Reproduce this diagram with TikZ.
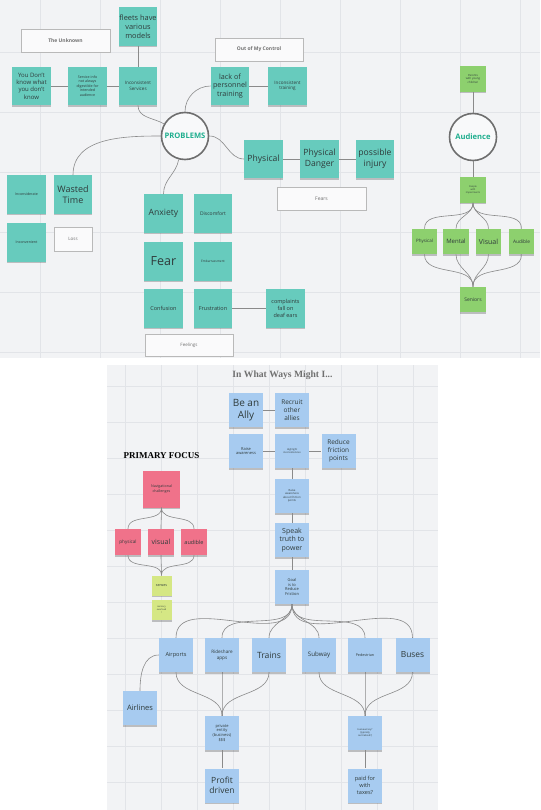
\documentclass[tikz,border=0pt]{standalone}
\usepackage{fontspec}
\setmainfont{Open Sans}
\newfontfamily\headserif{Liberation Serif}
\usetikzlibrary{shadows}
\definecolor{bgc}{HTML}{F2F3F5}
\definecolor{gridc}{HTML}{E2E4E8}
\definecolor{tealn}{HTML}{67CBBD}
\definecolor{greenn}{HTML}{8DD06E}
\definecolor{pinkn}{HTML}{F0728A}
\definecolor{limen}{HTML}{D5E784}
\definecolor{bluen}{HTML}{A7CBF0}
\definecolor{txt}{HTML}{2F3B3B}
\definecolor{lnc}{HTML}{8A8A8A}
\definecolor{ringc}{HTML}{6E6E6E}
\definecolor{headc}{HTML}{1EAE8E}
\definecolor{lblc}{HTML}{707070}
\tikzset{
  fs/.code={\pgfmathsetmacro\fsbl{1.22*#1}\edef\fscmd{\noexpand\fontsize{#1}{\fsbl}\noexpand\selectfont}\pgfkeysalso{/tikz/font/.expand once=\fscmd}},
  note/.style={fill=#1, text=txt, align=center, inner sep=0pt,
    drop shadow={shadow xshift=0pt, shadow yshift=-1.6pt, opacity=0.22, fill=black}},
  tnote/.style={note=tealn, minimum width=38.5pt, minimum height=38.5pt},
  gnote/.style={note=greenn, minimum width=25.5pt, minimum height=25.5pt},
  bnote/.style={note=bluen, minimum width=34pt, minimum height=34pt},
  pnote/.style={note=pinkn, minimum width=26pt, minimum height=26pt},
  lnote/.style={note=limen, minimum width=20pt, minimum height=20pt},
  lbox/.style={draw=gray!55, line width=0.7pt, fill=white!60!bgc, text=lblc, align=center, inner sep=0pt},
  ring/.style={circle, draw=ringc, line width=1.6pt, fill=white!50!bgc, minimum size=47pt, inner sep=0pt, text=headc},
  conn/.style={draw=lnc, line width=0.6pt},
}
\begin{document}
\begin{tikzpicture}[x=1pt,y=-1pt]
\useasboundingbox (0,0) rectangle (540,810);
\fill[white] (0,0) rectangle (540,810);
% panels
\fill[bgc] (0,0) rectangle (540,358);
\foreach \gx in {40,100,...,520} \draw[gridc, line width=0.4pt] (\gx,0) -- (\gx,358);
\foreach \gy in {52,112,...,352} \draw[gridc, line width=0.4pt] (0,\gy) -- (540,\gy);
\fill[bgc] (107,365) rectangle (438,810);
\foreach \gx in {125,161,...,431} \draw[gridc, line width=0.4pt] (\gx,365) -- (\gx,810);
\foreach \gy in {386,422,...,806} \draw[gridc, line width=0.4pt] (107,\gy) -- (438,\gy);

% ===== PROBLEMS map =====
\node[lbox, minimum width=89pt, minimum height=23pt, fs=5] (unk) at (65.5,40.5) {\bfseries The Unknown};
\node[tnote, fs=7.4] (fleets) at (138,26.5) {fleets have\\various\\models};
\node[tnote, fs=6] (you) at (31.5,86) {You Don't\\know what\\you don't\\know};
\node[tnote, fs=3.6] (svc) at (87.5,86) {Service info\\not always\\digestible for\\intended\\audience};
\node[tnote, fs=4.6] (insv) at (138,86) {Inconsistent\\Services};
\node[lbox, minimum width=88pt, minimum height=23pt, fs=5] (ctrl) at (259,49.5) {\bfseries Out of My Control};
\node[tnote, fs=7.2] (lack) at (230,86) {lack of\\personnel\\training};
\node[tnote, fs=4.6] (intr) at (287.5,86) {Inconsistent\\training};
\node[ring, fs=7.6] (prob) at (185,136) {\bfseries PROBLEMS};
\node[tnote, fs=8.6] (phys) at (263.5,159) {Physical};
\node[tnote, fs=8.6] (pdan) at (319.5,159) {Physical\\Danger};
\node[tnote, fs=8.6] (inj) at (375,159) {possible\\injury};
\node[lbox, minimum width=89pt, minimum height=23pt, fs=5] (fears) at (321.5,198.5) {Fears};
\node[tnote, fs=3.6] (incd) at (26.5,194.5) {Inconsiderate};
\node[tnote, fs=9] (wast) at (73,194.5) {Wasted\\Time};
\node[tnote, fs=3.6] (incv) at (26.5,242.5) {Inconvenient};
\node[lbox, minimum width=38pt, minimum height=24pt, fs=4.5] (loss) at (73,239) {Loss};
\node[tnote, fs=8.6] (anx) at (163.5,213.5) {Anxiety};
\node[tnote, fs=5] (disc) at (213,213.5) {Discomfort};
\node[tnote, fs=12.5] (fear) at (163.5,261.5) {Fear};
\node[tnote, fs=3.2] (emb) at (213,261.5) {Embarrassment};
\node[tnote, fs=5.5] (conf) at (163.5,308.5) {Confusion};
\node[tnote, fs=5.5] (frus) at (213,308.5) {Frustration};
\node[tnote, fs=5.5] (comp) at (285.5,308.5) {complaints\\fall on\\deaf ears};
\node[lbox, minimum width=88pt, minimum height=22pt, fs=4.5] (feel) at (189,345) {Feelings};

\draw[conn] (fleets) -- (insv);
\draw[conn] (you) -- (svc);
\draw[conn] (svc) -- (insv);
\draw[conn] (insv.south) to[out=-90,in=150] (prob.150);
\draw[conn] (lack.west) to[out=180,in=90] (prob.north);
\draw[conn] (lack) -- (intr);
\draw[conn] (prob.east) to[out=0,in=180] (phys.west);
\draw[conn] (phys) -- (pdan);
\draw[conn] (pdan) -- (inj);
\draw[conn] (wast.north) to[out=90,in=180] (prob.west);
\draw[conn] (prob.255) to[out=-100,in=90] (anx.north);
\draw[conn] (frus) -- (comp);

% ===== Audience =====
\node[ring, fs=7.6] (aud) at (473,137) {\bfseries Audience};
\node[gnote, fs=2.8] (par) at (473,79) {Parents\\with young\\children};
\node[gnote, fs=2.4] (peo) at (473,190) {People\\with\\impairments};
\node[gnote, fs=4.5] (gphy) at (424.5,241.5) {Physical};
\node[gnote, fs=6] (gmen) at (456,241.5) {Mental};
\node[gnote, fs=7] (gvis) at (488.5,241.5) {Visual};
\node[gnote, fs=4.8] (gaud) at (521.5,241.5) {Audible};
\node[gnote, fs=5] (sen) at (473,299.5) {Seniors};
\draw[conn] (par) -- (aud);
\draw[conn] (aud) -- (peo);
\foreach \n in {gphy,gmen,gvis,gaud} {
  \draw[conn] (peo.south) to[out=-90,in=90] (\n.north);
  \draw[conn] (\n.south) to[out=-90,in=90] (sen.north);
}

% ===== In What Ways Might I =====
\node[text=lblc, fs=9.6] (title) at (282.5,375) {\headserif\bfseries In What Ways Might I...};
\node[bnote, fs=10] (ally) at (246,410) {Be an\\Ally};
\node[bnote, fs=6.5] (recr) at (292,410) {Recruit\\other\\allies};
\node[bnote, fs=4] (rais) at (246,451) {Raise\\awareness};
\node[bnote, fs=2.5] (high) at (292,451) {Highlight\\inconsistencies};
\node[bnote, fs=6.5] (redu) at (338.5,451) {Reduce\\friction\\points};
\node[bnote, fs=2.8] (rfri) at (292,496) {Raise\\awareness\\about friction\\points};
\node[bnote, fs=7] (spk) at (292,540) {Speak\\truth to\\power};
\node[bnote, fs=4] (goal) at (292,587) {Goal\\is to\\Reduce\\Friction};
\draw[conn] (ally) -- (recr);
\draw[conn] (rais) -- (high);
\draw[conn] (high) -- (redu);
\draw[conn] (high) -- (rfri);
\draw[conn] (rfri) -- (spk);
\draw[conn] (spk) -- (goal);

% primary focus
\node[text=black, fs=9] (pf) at (161.5,456) {\headserif\bfseries PRIMARY FOCUS};
\node[note=pinkn, minimum width=37pt, minimum height=37pt, fs=3.6] (nav) at (161.5,489) {Navigational\\challenges};
\node[pnote, fs=4.6] (pphy) at (128,542) {physical};
\node[pnote, fs=7] (pvis) at (161,542) {visual};
\node[pnote, fs=5.5] (paud) at (194,542) {audible};
\node[lnote, fs=3.6] (sens) at (161.5,585.5) {senses};
\node[lnote, fs=2.3] (sovl) at (161.5,610) {sensory\\overload\\!};
\foreach \n in {pphy,pvis,paud} {
  \draw[conn] (nav.south) to[out=-90,in=90] (\n.north);
  \draw[conn] (\n.south) to[out=-90,in=90] (sens.north);
}

% transport
\node[bnote, fs=5.6] (airp) at (176,655) {Airports};
\node[bnote, fs=4.6] (ride) at (222,655) {Rideshare\\apps};
\node[bnote, fs=8.6] (trai) at (269,655) {Trains};
\node[bnote, fs=6.2] (subw) at (319,655) {Subway};
\node[bnote, fs=3.7] (pede) at (365,655) {Pedestrian};
\node[bnote, fs=8.4] (buse) at (412.5,655) {Buses};
\node[bnote, fs=7.5] (airl) at (140,708) {Airlines};
\node[bnote, fs=4] (priv) at (222,733) {private\\entity\\(business)\\\$\$\$};
\node[bnote, fs=8.5] (prof) at (222,785.5) {Profit\\driven};
\node[bnote, fs=2.4] (bure) at (365,733) {bureaucracy?\\(typically\\centralized?)};
\node[bnote, fs=5.6] (paid) at (365,785.5) {paid for\\with\\taxes?};
\foreach \n in {airp,ride,trai,subw,pede,buse}
  \draw[conn] (goal.south) to[out=-90,in=90] (\n.north);
\foreach \n in {airp,ride,trai}
  \draw[conn] (\n.south) to[out=-90,in=90] (priv.north);
\foreach \n in {subw,pede,buse}
  \draw[conn] (\n.south) to[out=-90,in=90] (bure.north);
\draw[conn] (airp.west) to[out=180,in=90] (airl.north);
\draw[conn] (priv) -- (prof);
\draw[conn] (bure) -- (paid);
\end{tikzpicture}
\end{document}
